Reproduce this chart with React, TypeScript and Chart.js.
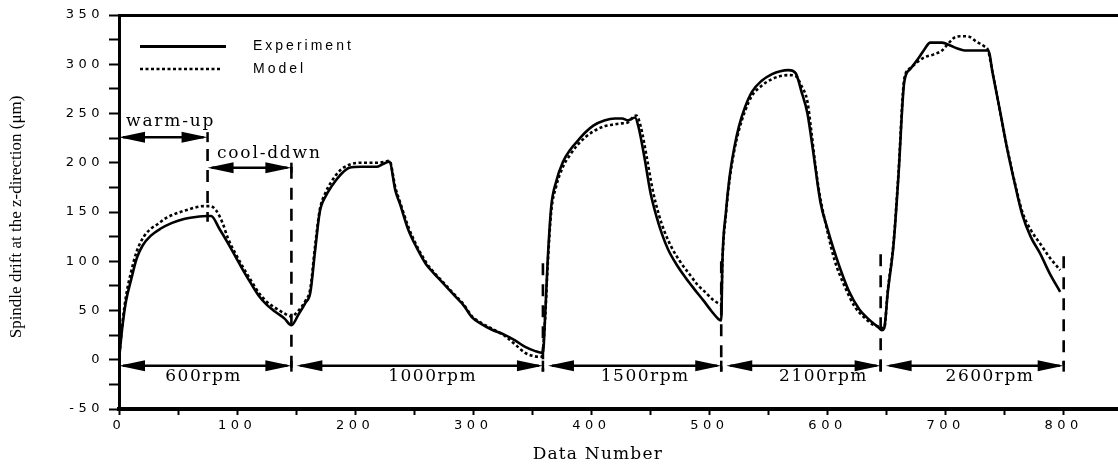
import React, { useEffect, useRef } from 'react';
import { Chart, registerables } from 'chart.js';

Chart.register(...registerables);

// ---- data ----
const expX = [0, 3, 6, 10, 15, 20, 27, 35, 45, 55, 65, 75, 78, 85, 92, 99, 105, 112, 119, 125, 132, 140, 146,
  152, 158, 162, 166, 170, 175, 180, 187, 195, 205, 218, 224, 229, 234, 238, 245, 252, 260, 265, 275, 285, 292,
  299, 306, 315, 327, 335, 344, 352, 359, 361, 363, 366, 370, 376, 382, 389, 395, 402, 411, 420, 426, 431, 437,
  440, 445, 450, 455, 460, 465, 472, 480, 487, 495, 502, 508, 510, 511, 514, 517, 521, 525, 530, 536, 544, 553,
  560, 567, 573, 578, 583, 588, 594, 600, 605, 610, 618, 627, 635, 643, 646, 648, 651, 656, 660, 665, 670, 677,
  682, 687, 697, 704, 710, 716, 725, 736, 740, 746, 752, 758, 765, 772, 780, 788, 797];
const expY = [0, 35, 60, 80, 103, 116, 126, 133, 139, 143, 145, 146, 146, 133, 119, 104, 91, 77, 64, 56, 49, 42, 35,
  46, 58, 68, 110, 150, 166, 176, 187, 195, 196, 196, 199, 201, 172, 158, 132, 114, 97, 90, 77, 64, 55,
  43, 37, 31, 25, 20, 13, 9, 7, 48, 100, 155, 180, 201, 213, 223, 231, 238, 243, 245, 245, 243, 246,
  236, 205, 170, 146, 127, 112, 97, 83, 72, 60, 49, 41, 40, 100, 150, 185, 215, 237, 256, 272, 283, 290,
  293, 294, 291, 272, 250, 210, 160, 133, 113, 95, 70, 51, 41, 33, 30, 32, 68, 118, 185, 282, 295, 306,
  315, 322, 322, 319, 316, 314, 314, 314, 290, 253, 215, 182, 147, 125, 108, 88, 69];

const modelX = [0, 3, 6, 10, 15, 21, 27, 32, 40, 52, 60, 66, 72, 77, 82, 88, 92, 99, 105, 112, 119, 125, 132, 140,
  146, 152, 158, 162, 166, 170, 175, 180, 187, 195, 205, 218, 225, 229, 234, 238, 245, 252, 260, 265, 275, 285,
  292, 299, 306, 315, 327, 336, 344, 352, 358, 361, 363, 366, 370, 376, 382, 389, 395, 402, 411, 420, 426, 431,
  435, 438, 442, 447, 452, 457, 462, 468, 475, 483, 490, 497, 503, 508, 510, 511, 514, 517, 521, 525, 530, 536,
  544, 553, 560, 567, 573, 578, 583, 586, 590, 593, 600, 606, 614, 623, 631, 638, 645, 648, 651, 656, 660, 665,
  670, 677, 682, 690, 697, 703, 709, 715, 720, 726, 733, 736, 740, 746, 752, 758, 765, 772, 780, 788, 797];
const modelY = [0, 38, 65, 88, 110, 125, 133, 137, 144, 150, 153, 155, 156, 156, 152, 138, 124, 107, 94, 80, 67, 59, 53, 47,
  44, 50, 60, 72, 115, 152, 170, 181, 192, 198, 200, 200, 201, 202, 175, 160, 135, 116, 99, 91, 78, 65,
  56, 44, 38, 32, 24, 15, 7, 3.5, 3, 45, 95, 150, 175, 196, 208, 219, 226, 232, 237, 239, 240, 241,
  246, 248, 236, 205, 172, 148, 130, 114, 100, 87, 76, 68, 61, 57, 56, 100, 148, 182, 212, 233, 252, 268,
  278, 285, 288, 289, 288, 278, 262, 235, 195, 170, 130, 101, 76, 54, 43, 36, 33, 32, 70, 120, 188, 285,
  296, 303, 307, 310, 314, 322, 328, 328.5, 328, 323, 318, 314, 290, 253, 216, 183, 150, 132, 118, 104, 91];

const xTickLabels = [0, 100, 200, 300, 400, 500, 600, 700, 800];
const yTickLabels = [-50, 0, 50, 100, 150, 200, 250, 300, 350];

// phases (rpm) along the bottom
const phaseBounds = [0, 146, 359, 510, 645, 800];
const phaseLabels = ['600rpm', '1000rpm', '1500rpm', '2100rpm', '2600rpm'];
const phaseLabelX = [71, 265, 445, 596, 737];
const phaseArrowY = -6;
const phaseLabelY = -17;

// vertical dashed separators
const dashX = [75, 146, 359, 510, 645, 800];
const dashTop = [214, 196, 98, 100, 107, 105];
const dashBottom = [140, -17, -12, -12, -17, -5];

// warm-up / cool-down annotation
const warmArrow = { x1: 0, x2: 75, y: 226, label: 'warm-up', lx: 6, ly: 237 };
const coolArrow = { x1: 75, x2: 146, y: 195, label: 'cool-ddwn', lx: 83, ly: 205 };

const legendItems = ['Experiment', 'Model'];
const yTitle = 'Spindle drift at the z-direction (μm)';
const xTitle = 'Data Number';

function arrowHead(ctx: CanvasRenderingContext2D, tipX: number, y: number, dir: number, len: number, half: number) {
  ctx.beginPath();
  ctx.moveTo(tipX, y);
  ctx.lineTo(tipX - dir * len, y - half);
  ctx.lineTo(tipX - dir * len, y + half);
  ctx.closePath();
  ctx.fill();
}

function doubleArrow(ctx: CanvasRenderingContext2D, x1: number, x2: number, y: number) {
  ctx.lineWidth = 2.5;
  ctx.beginPath();
  ctx.moveTo(x1 + 4, y);
  ctx.lineTo(x2 - 4, y);
  ctx.stroke();
  arrowHead(ctx, x1, y, -1, 26, 5.5);
  arrowHead(ctx, x2, y, 1, 26, 5.5);
}

const annotationPlugin = {
  id: 'annotations',
  beforeDraw(chart: any) {
    (chart.ctx as any).letterSpacing = '4.5px';
  },
  afterDraw(chart: any) {
    const ctx: CanvasRenderingContext2D = chart.ctx;
    const xs = chart.scales.x;
    const ys = chart.scales.y;
    const px = (v: number) => xs.getPixelForValue(v);
    const py = (v: number) => ys.getPixelForValue(v);
    const area = chart.chartArea;
    ctx.save();
    (ctx as any).letterSpacing = '0px';
    ctx.strokeStyle = '#000';
    ctx.fillStyle = '#000';

    // dashed separators
    ctx.lineWidth = 2.6;
    ctx.setLineDash([12, 9]);
    dashX.forEach((x, i) => {
      ctx.beginPath();
      ctx.moveTo(px(x), py(dashTop[i]));
      ctx.lineTo(px(x), py(dashBottom[i]));
      ctx.stroke();
    });
    ctx.setLineDash([]);

    // rpm arrows
    const ay = py(phaseArrowY);
    for (let i = 0; i < phaseLabels.length; i++) {
      const a = px(phaseBounds[i]) + (i === 0 ? 0 : 5);
      const b = px(phaseBounds[i + 1]);
      doubleArrow(ctx, a, b, ay);
    }
    ctx.lineWidth = 2.5;
    phaseBounds.slice(1).forEach((bnd) => {
      ctx.beginPath();
      ctx.moveTo(px(bnd), ay - 5);
      ctx.lineTo(px(bnd), ay + 6);
      ctx.stroke();
    });

    // warm-up / cool-down arrows
    [warmArrow, coolArrow].forEach((a) => {
      const y = py(a.y);
      doubleArrow(ctx, px(a.x1), px(a.x2), y);
      ctx.lineWidth = 2.5;
      ctx.beginPath();
      ctx.moveTo(px(a.x2), y - 5);
      ctx.lineTo(px(a.x2), y + 5);
      ctx.stroke();
    });

    // serif annotation labels
    ctx.font = '17px "DejaVu Serif"';
    (ctx as any).letterSpacing = '1.8px';
    ctx.textBaseline = 'alphabetic';
    ctx.textAlign = 'left';
    [warmArrow, coolArrow].forEach((a) => {
      ctx.fillText(a.label, px(a.lx), py(a.ly));
    });
    (ctx as any).letterSpacing = '1.5px';
    ctx.textAlign = 'center';
    ctx.textBaseline = 'middle';
    phaseLabels.forEach((lab, i) => {
      ctx.fillText(lab, px(phaseLabelX[i]) + 0.75, py(phaseLabelY));
    });

    // legend
    const lx1 = area.left + 21;
    const ly1 = area.top + 31.5;
    const ly2 = area.top + 54;
    ctx.lineWidth = 3;
    ctx.beginPath();
    ctx.moveTo(lx1, ly1);
    ctx.lineTo(lx1 + 86, ly1);
    ctx.stroke();
    ctx.lineWidth = 2.6;
    ctx.setLineDash([3, 2.5]);
    ctx.beginPath();
    ctx.moveTo(lx1, ly2);
    ctx.lineTo(lx1 + 82, ly2);
    ctx.stroke();
    ctx.setLineDash([]);
    ctx.font = '14px "Liberation Sans"';
    (ctx as any).letterSpacing = '3px';
    ctx.textAlign = 'left';
    ctx.textBaseline = 'middle';
    ctx.fillText(legendItems[0], area.left + 134, ly1);
    ctx.fillText(legendItems[1], area.left + 134, ly2);

    // axis titles
    (ctx as any).letterSpacing = '0px';
    ctx.font = '17px "Liberation Serif"';
    ctx.textAlign = 'center';
    ctx.textBaseline = 'middle';
    ctx.save();
    ctx.translate(17, py(145));
    ctx.rotate(-Math.PI / 2);
    ctx.fillText(yTitle, 0, 0);
    ctx.restore();
    ctx.font = '17px "DejaVu Serif"';
    (ctx as any).letterSpacing = '1.2px';
    ctx.fillText(xTitle, px(405) + 0.6, 455);

    ctx.restore();
    (ctx as any).letterSpacing = '0px';
  },
};

export default function App() {
  const canvasRef = useRef<HTMLCanvasElement | null>(null);

  useEffect(() => {
    document.body.style.margin = '0';
    const canvas = canvasRef.current;
    if (!canvas) return;
    const chart = new Chart(canvas, {
      type: 'line',
      data: {
        datasets: [
          {
            label: legendItems[0],
            data: expX.map((x, i) => ({ x, y: expY[i] })),
            borderColor: '#000',
            borderWidth: 2.6,
            pointRadius: 0,
            cubicInterpolationMode: 'monotone',
            fill: false,
          },
          {
            label: legendItems[1],
            data: modelX.map((x, i) => ({ x, y: modelY[i] })),
            borderColor: '#000',
            borderWidth: 2.6,
            borderDash: [3, 2.5],
            pointRadius: 0,
            cubicInterpolationMode: 'monotone',
            fill: false,
          },
        ],
      },
      options: {
        animation: false,
        responsive: false,
        devicePixelRatio: 1,
        layout: { padding: { top: 15, left: 0, right: 0, bottom: 0 } },
        plugins: { legend: { display: false }, tooltip: { enabled: false } },
        scales: {
          x: {
            type: 'linear',
            position: 'bottom',
            min: 0,
            max: 846,
            ticks: {
              stepSize: 50,
              includeBounds: false,
              autoSkip: false,
              maxRotation: 0,
              padding: 3,
              color: '#000',
              font: { family: 'DejaVu Sans', size: 13 },
              callback: (v: any) => (xTickLabels.includes(Number(v)) ? String(v) : ''),
            },
            grid: {
              display: true,
              drawOnChartArea: false,
              drawTicks: true,
              tickLength: 6,
              tickColor: '#000',
              tickWidth: 2,
            },
            border: { display: true, color: '#000', width: 4 },
            afterFit: (s: any) => {
              s.height = 60;
            },
          },
          y: {
            type: 'linear',
            position: 'left',
            min: -50,
            max: 350,
            ticks: {
              stepSize: 25,
              autoSkip: false,
              padding: 5,
              color: '#000',
              font: { family: 'DejaVu Sans', size: 13 },
              callback: (v: any) => (yTickLabels.includes(Number(v)) ? String(v) : ''),
            },
            grid: {
              display: true,
              drawOnChartArea: true,
              drawTicks: true,
              tickLength: 10,
              tickColor: '#000',
              tickWidth: 2,
              color: (c: any) => (c.tick && c.tick.value === 350 ? '#000' : 'rgba(0,0,0,0)'),
              lineWidth: (c: any) => (c.tick && c.tick.value === 350 ? 3 : 1),
            },
            border: { display: true, color: '#000', width: 3 },
            afterFit: (s: any) => {
              s.width = 119;
            },
          },
        },
      },
      plugins: [annotationPlugin],
    } as any);
    return () => chart.destroy();
  }, []);

  return (
    <div style={{ position: 'absolute', left: 0, top: 0, width: 1118, height: 469, background: '#fff' }}>
      <canvas ref={canvasRef} width={1118} height={469} style={{ width: 1118, height: 469, display: 'block' }} />
    </div>
  );
}
